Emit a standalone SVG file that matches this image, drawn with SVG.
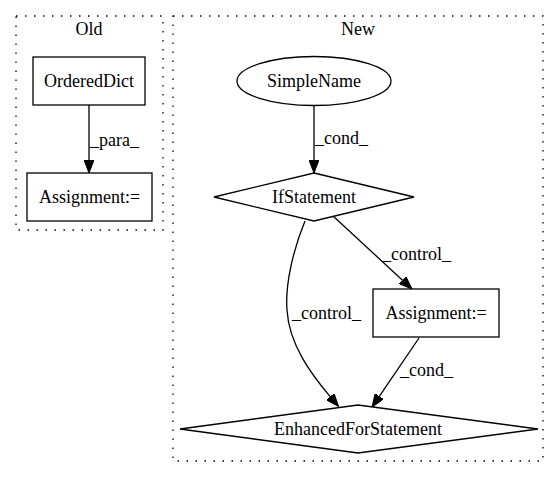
<svg xmlns="http://www.w3.org/2000/svg" width="560" height="480" viewBox="0 0 560 480">
<style>
text{font-family:'Liberation Serif',serif;font-size:18px;fill:#000}
.n{fill:#fff;stroke:#000;stroke-width:1.3}
.c{fill:none;stroke:#000;stroke-width:1.3;stroke-dasharray:1.5,7.5}
.e{fill:none;stroke:#000;stroke-width:1.3}
.m{text-anchor:middle}
</style>
<defs>
<marker id="ah" viewBox="0 0 13 10" refX="0" refY="5" markerWidth="13" markerHeight="10" markerUnits="userSpaceOnUse" orient="auto">
<path d="M0,0 L13,5 L0,10 z" fill="#000" stroke="#000" stroke-width="1"/>
</marker>
</defs>
<rect x="0" y="0" width="560" height="480" fill="#fff"/>
<g id="cluster_old">
<rect class="c" x="16" y="16" width="147" height="214"/>
<text class="m" x="89" y="35">Old</text>
</g>
<g id="cluster_new">
<rect class="c" x="173" y="16" width="370" height="445"/>
<text class="m" x="358" y="35">New</text>
</g>
<g id="connectors">
<path class="e" d="M89,105 L89,160" marker-end="url(#ah)"/>
<text x="90" y="146">_para_</text>
<path class="e" d="M314,106 L314,160" marker-end="url(#ah)"/>
<text x="315" y="144">_cond_</text>
<path class="e" d="M333,216 L402.5,280.2" marker-end="url(#ah)"/>
<text x="382" y="260">_control_</text>
<path class="e" d="M419,338 L379.3,396.3" marker-end="url(#ah)"/>
<text x="400" y="376">_cond_</text>
<path class="e" d="M305,221 C293,250 285,285 287,310 C289,345 312,375 330.2,396.6" marker-end="url(#ah)"/>
<text x="292" y="319">_control_</text>
</g>
<g id="old_ordereddict">
<rect class="n" x="33" y="57" width="112" height="48"/>
<text class="m" x="89" y="87">OrderedDict</text>
</g>
<g id="old_assignment">
<rect class="n" x="27" y="173" width="125" height="48"/>
<text class="m" x="89.5" y="203">Assignment:=</text>
</g>
<g id="new_simplename">
<ellipse class="n" cx="314" cy="81" rx="77" ry="24.5"/>
<text class="m" x="314" y="87">SimpleName</text>
</g>
<g id="new_ifstatement">
<polygon class="n" points="314,173 414,197 314,221 214,197"/>
<text class="m" x="314" y="203">IfStatement</text>
</g>
<g id="new_assignment">
<rect class="n" x="373" y="289" width="126" height="48"/>
<text class="m" x="436" y="319">Assignment:=</text>
</g>
<g id="new_enhancedfor">
<polygon class="n" points="358,405 538,429 358,453 180,429"/>
<text class="m" x="358" y="435">EnhancedForStatement</text>
</g>
</svg>
